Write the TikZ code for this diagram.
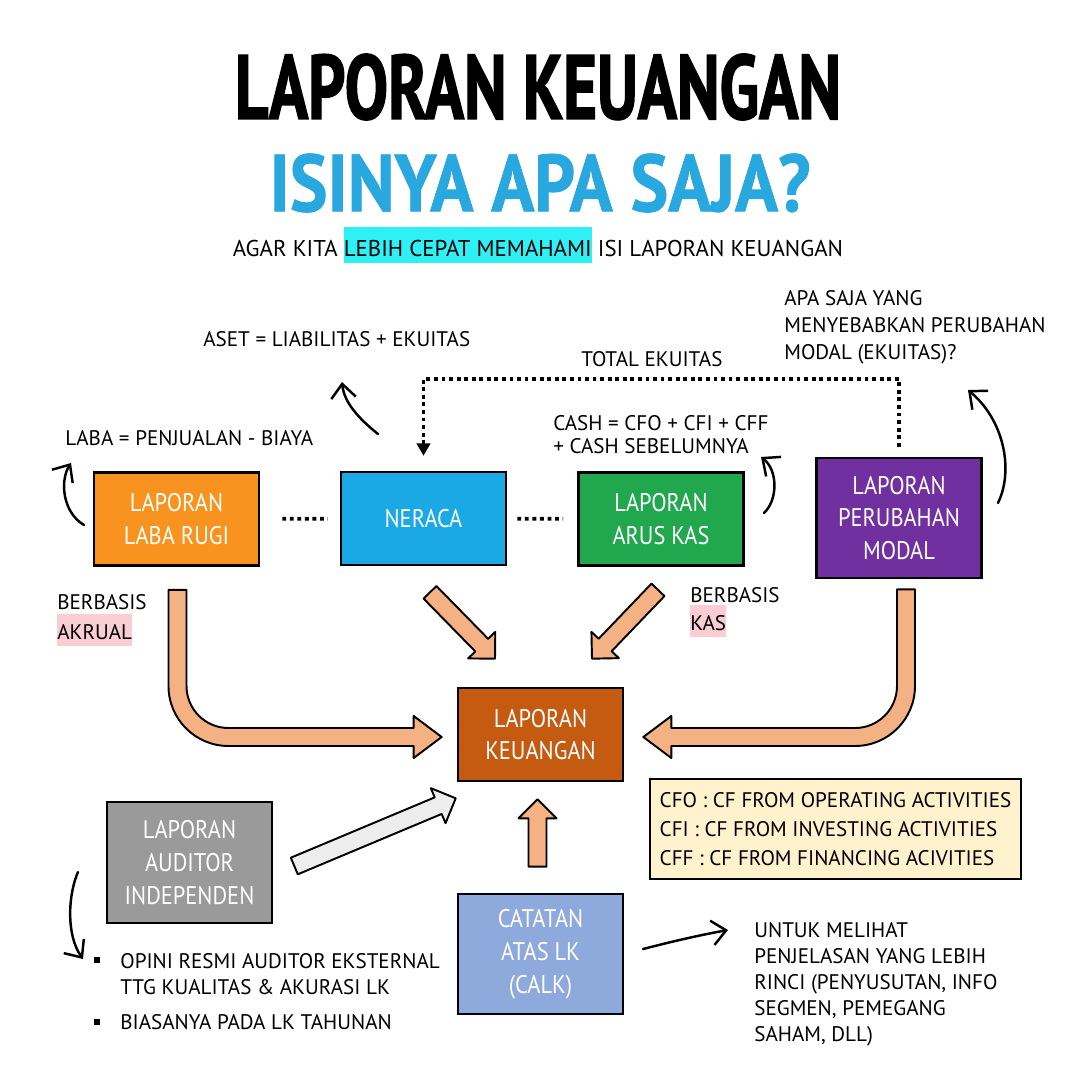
\documentclass[tikz,border=0pt]{standalone}
\usepackage{fontspec}
\setmainfont{PT Sans}
\newfontfamily\titlefont[FakeStretch=0.71,FakeBold=1.5]{PT Sans}
\newfontfamily\questfont[FakeStretch=0.88,FakeBold=1]{PT Sans}
\newfontfamily\boxfont[FakeStretch=0.88]{PT Sans}
\usetikzlibrary{arrows.meta,calc,positioning}

\definecolor{lrorange}{HTML}{F7931E}
\definecolor{nrblue}{HTML}{1BA9E6}
\definecolor{akgreen}{HTML}{21A74E}
\definecolor{pmpurple}{HTML}{7030A0}
\definecolor{lkbrown}{HTML}{C55A11}
\definecolor{augray}{HTML}{9A9A9A}
\definecolor{ckblue}{HTML}{8EA9DB}
\definecolor{cfcream}{HTML}{FFF2CC}
\definecolor{peach}{HTML}{F4B183}
\definecolor{argray}{HTML}{EDEDED}
\definecolor{titleblue}{HTML}{29A8E0}
\definecolor{cyanhl}{HTML}{2EF0F5}
\definecolor{pinkhl}{HTML}{F9CDD3}

\newcommand{\hilite}[3][18.3pt]{{\setlength{\fboxsep}{0pt}\colorbox{#2}{\rule[-3.6pt]{0pt}{#1}#3}}}

% straight block arrow: tail, tip
\newcommand{\blockarr}[3][peach]{%
  \coordinate (bh) at ($(#3)!0.38cm!(#2)$);
  \draw[bigarrow, fill=#1] ($(#2)!0.18cm!90:(#3)$) -- ($(bh)!0.18cm!90:(#3)$)
    -- ($(bh)!0.38cm!90:(#3)$) -- (#3) -- ($(bh)!0.38cm!-90:(#3)$)
    -- ($(bh)!0.18cm!-90:(#3)$) -- ($(#2)!0.18cm!-90:(#3)$) -- cycle;
}

\begin{document}
\begin{tikzpicture}[x=0.02cm, y=-0.02cm,
  box/.style={draw=black, line width=1.5pt, text=white, align=center,
    font=\boxfont\fontsize{14.5}{18.7}\selectfont,
    minimum width=3.3cm, minimum height=1.86cm, inner sep=0pt},
  note/.style={align=left, inner sep=0pt, font=\fontsize{12}{15.3}\selectfont},
  dotline/.style={line width=2.2pt, dash pattern=on 2.2pt off 2.1pt},
  thinarrow/.style={line width=1.4pt, line cap=round,
    -{Straight Barb[length=8pt, width=14pt, line width=1.4pt]}},
  bigarrow/.style={draw=black, line width=1.1pt, line join=round, fill=peach}]

  \useasboundingbox[fill=white] (0,0) rectangle (1080,1080);

  % title
  \node[font=\titlefont\bfseries\fontsize{52}{54}\selectfont] (title) at (538,87) {LAPORAN KEUANGAN};
  \node[font=\questfont\bfseries\fontsize{46}{48}\selectfont, text=titleblue] (quest) at (540,183) {ISINYA APA SAJA?};
  \node[font=\fontsize{13}{16}\selectfont, anchor=base, inner sep=0pt] (sub) at (538,256.5)
    {AGAR KITA \hilite[20.4pt]{cyanhl}{LEBIH CEPAT MEMAHAMI} ISI LAPORAN KEUANGAN};

  % the statements
  \node[box, fill=lrorange] (lr) at (176.5,519) {LAPORAN\\LABA RUGI};
  \node[box, fill=nrblue] (nr) at (423.5,518.5) {NERACA};
  \node[box, fill=akgreen] (ak) at (661,519) {LAPORAN\\ARUS KAS};
  \node[box, fill=pmpurple, minimum height=2.4cm] (pm) at (899,518) {LAPORAN\\PERUBAHAN\\MODAL};
  \node[box, fill=lkbrown] (lk) at (540.5,734.5) {LAPORAN\\KEUANGAN};
  \node[box, fill=augray, minimum height=2.42cm] (au) at (189.5,862.5) {LAPORAN\\AUDITOR\\INDEPENDEN};
  \node[box, fill=ckblue, minimum height=2.4cm] (ck) at (540.5,954) {CATATAN\\ATAS LK\\(CALK)};
  \node[note, draw=black, line width=1.1pt, fill=cfcream, minimum width=7.42cm, minimum height=2cm,
    font=\fontsize{12}{16.4}\selectfont] (cf) at (835.5,829)
    {CFO : CF FROM OPERATING ACTIVITIES\\CFI : CF FROM INVESTING ACTIVITIES\\CFF : CF FROM FINANCING ACIVITIES};

  % notes
  \node[note, anchor=base west] (laba) at (65,445.5) {LABA = PENJUALAN - BIAYA};
  \node[note, anchor=base west] (aset) at (203,346.5) {ASET = LIABILITAS + EKUITAS};
  \node[note, anchor=base west] (ekl) at (581,366.5) {TOTAL EKUITAS};
  \node[note, anchor=north west, font=\fontsize{12}{12.6}\selectfont] (cash) at (553,415.5)
    {CASH = CFO + CFI + CFF\\+ CASH SEBELUMNYA};
  \node[note, anchor=north west] (apa) at (784,290.5)
    {APA SAJA YANG\\MENYEBABKAN PERUBAHAN\\MODAL (EKUITAS)?};
  \node[note, anchor=north west, font=\fontsize{12}{17}\selectfont] (akr) at (57,594.5)
    {BERBASIS\\\hilite{pinkhl}{AKRUAL}};
  \node[note, anchor=north west, font=\fontsize{12}{15.9}\selectfont] (kas) at (690,587.5)
    {BERBASIS\\\hilite{pinkhl}{KAS}};
  \node[note, anchor=north west, font=\fontsize{12}{14.7}\selectfont] (opini) at (120,953.5)
    {OPINI RESMI AUDITOR EKSTERNAL\\TTG KUALITAS \& AKURASI LK};
  \node[note, anchor=base west] (tahun) at (120,1029.5) {BIASANYA PADA LK TAHUNAN};
  \node[fill=black, minimum size=3.4pt, inner sep=0pt] (b1) at (97,960) {};
  \node[fill=black, minimum size=3.4pt, inner sep=0pt] (b2) at (97,1022) {};
  \node[note, anchor=north west, font=\fontsize{12}{14.7}\selectfont] (rinci) at (754,922.5)
    {UNTUK MELIHAT\\PENJELASAN YANG LEBIH\\RINCI (PENYUSUTAN, INFO\\SEGMEN, PEMEGANG\\SAHAM, DLL)};

  % dotted links
  \draw[dotline, shorten <=12.5pt, shorten >=6.8pt] (lr) -- (nr);
  \draw[dotline, shorten <=5.7pt, shorten >=8pt] (nr) -- (ak);
  \coordinate (ek) at (660,379);
  \draw[dotline, shorten <=5.7pt, shorten >=8.5pt, -{Triangle[width=7.5pt, length=7pt]}]
    (pm.north) |- (ek) -| (nr.north);

  % hand drawn arrows to the notes
  \coordinate (lrA) at (84,525);   \coordinate (lrB) at (71,463);
  \coordinate (nrA) at (378,434);  \coordinate (nrB) at (342,382);
  \coordinate (akA) at (764,513);  \coordinate (akB) at (761,457);
  \coordinate (pmA) at (998,503);  \coordinate (pmB) at (968,390);
  \coordinate (auA) at (78,872);   \coordinate (auB) at (83,959);
  \coordinate (ckA) at (643,949);  \coordinate (ckB) at (728,930);
  \draw[thinarrow] (lrA) .. controls (62,512) and (60,480) .. (lrB);
  \draw[thinarrow] (nrA) .. controls (358,418) and (344,402) .. (nrB);
  \draw[thinarrow] (akA) .. controls (778,500) and (778,470) .. (akB);
  \draw[thinarrow] (pmA) .. controls (1014,470) and (1004,420) .. (pmB);
  \draw[thinarrow] (auA) .. controls (68,895) and (66,935) .. (auB);
  \draw[thinarrow] (ckA) .. controls (670,942) and (700,935) .. (ckB);

  % block arrows into the laporan keuangan
  \coordinate (lrT) at ([shift={(1,23)}]lr.south);
  \coordinate (lrP) at ([shift={(-15,2.5)}]lk.west);
  \coordinate (pmT) at ([shift={(7,10)}]pm.south);
  \coordinate (pmP) at ([shift={(19,2.5)}]lk.east);
  \draw[bigarrow] ($(lrT)+(-9,0)$) -- ($(lrT |- lrP)+(-9,-51)$)
    arc[start angle=180, end angle=270, radius=1.2cm]
    -- ($(lrP)+(-28,9)$) -- ($(lrP)+(-28,21)$) -- (lrP) -- ($(lrP)+(-28,-21)$) -- ($(lrP)+(-28,-9)$)
    -- ($(lrT |- lrP)+(51,-9)$) arc[start angle=270, end angle=180, radius=0.84cm]
    -- ($(lrT)+(9,0)$) -- cycle;
  \draw[bigarrow] ($(pmT)+(9,0)$) -- ($(pmT |- pmP)+(9,-51)$)
    arc[start angle=0, end angle=-90, radius=1.2cm]
    -- ($(pmP)+(28,9)$) -- ($(pmP)+(28,21)$) -- (pmP) -- ($(pmP)+(28,-21)$) -- ($(pmP)+(28,-9)$)
    -- ($(pmT |- pmP)+(-51,-9)$) arc[start angle=270, end angle=360, radius=0.84cm]
    -- ($(pmT)+(-9,0)$) -- cycle;

  \coordinate (nrT) at ([shift={(6.5,26)}]nr.south);
  \coordinate (nrP) at ([shift={(-45.5,-28)}]lk.north);
  \coordinate (akT) at ([shift={(-3,23)}]ak.south);
  \coordinate (akP) at ([shift={(51.5,-28)}]lk.north);
  \coordinate (ckT) at ([shift={(-3,-26)}]ck.north);
  \coordinate (ckP) at ([shift={(-3,17)}]lk.south);
  \coordinate (auT) at ([shift={(21,3.5)}]au.east);
  \coordinate (auP) at ([shift={(-1,16)}]lk.south west);
  \blockarr{nrT}{nrP}
  \blockarr{akT}{akP}
  \blockarr{ckT}{ckP}
  \blockarr[argray]{auT}{auP}
\end{tikzpicture}
\end{document}
